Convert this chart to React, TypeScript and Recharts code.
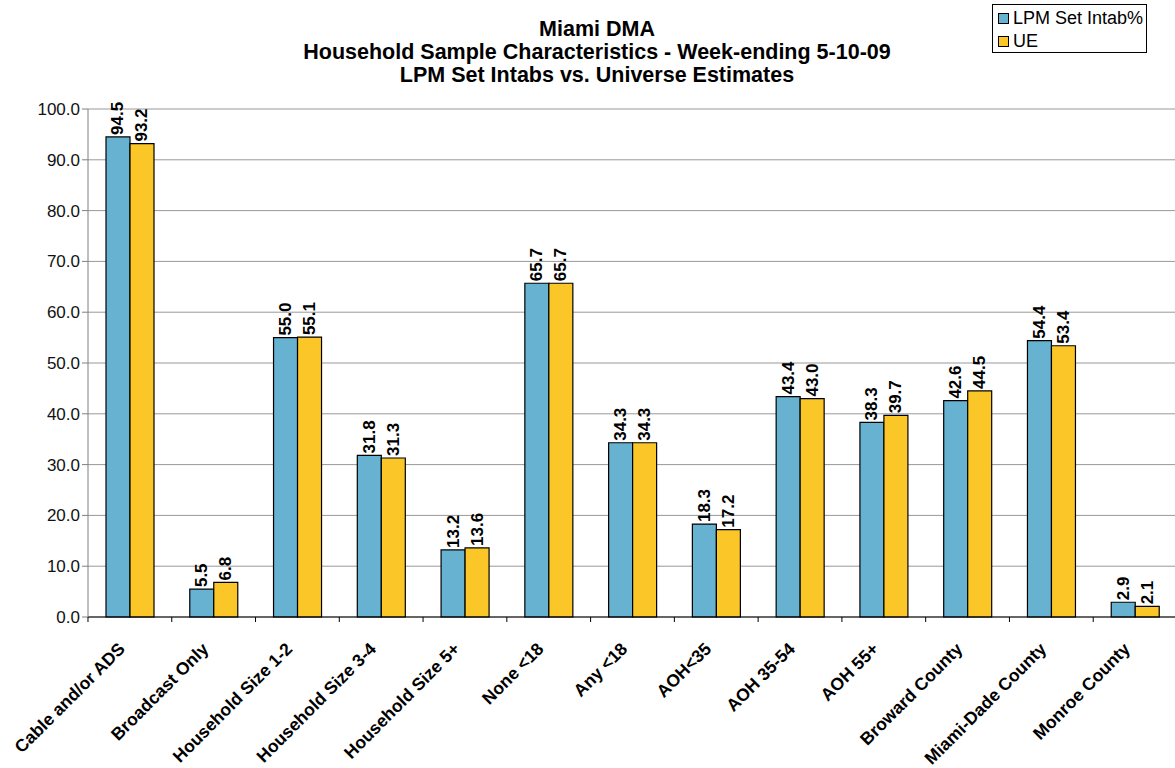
import React from "react";
import { Bar, BarChart, CartesianGrid, LabelList, XAxis, YAxis } from "recharts";

const categories = [
  "Cable and/or ADS",
  "Broadcast Only",
  "Household Size 1-2",
  "Household Size 3-4",
  "Household Size 5+",
  "None <18",
  "Any <18",
  "AOH<35",
  "AOH 35-54",
  "AOH 55+",
  "Broward County",
  "Miami-Dade County",
  "Monroe County",
];
const lpmIntab = [94.5, 5.5, 55.0, 31.8, 13.2, 65.7, 34.3, 18.3, 43.4, 38.3, 42.6, 54.4, 2.9];
const universe = [93.2, 6.8, 55.1, 31.3, 13.6, 65.7, 34.3, 17.2, 43.0, 39.7, 44.5, 53.4, 2.1];
const yTicks = [0, 10, 20, 30, 40, 50, 60, 70, 80, 90, 100];
const titleLines = [
  "Miami DMA",
  "Household Sample Characteristics - Week-ending 5-10-09",
  "LPM Set Intabs vs. Universe Estimates",
];

const BLUE = "#67B1D1";
const YELLOW = "#FBC627";
const FONT = "'Liberation Sans', Arial, sans-serif";

const data = categories.map((name, i) => ({ name, lpm: lpmIntab[i], ue: universe[i] }));

// category labels at 45deg, with the little boundary tick marks Excel draws
function XTick(props: any) {
  const { x, y, payload } = props;
  const half = 83.8 / 2;
  const ax = x - 4;
  const ay = y + 25;
  return (
    <g>
      <line x1={x - half} y1={y - 8} x2={x - half} y2={y - 3} stroke="#000" />
      <text
        x={ax}
        y={ay}
        transform={`rotate(-45, ${ax}, ${ay})`}
        textAnchor="end"
        fontFamily={FONT}
        fontWeight="bold"
        fontSize={17.5}
        fill="#000"
      >
        {payload.value}
      </text>
    </g>
  );
}

function BarValue(props: any) {
  const { x, y, width, value } = props;
  const cx = x + width / 2;
  const ty = y - 2;
  return (
    <text
      x={cx}
      y={ty}
      transform={`rotate(-90, ${cx}, ${ty})`}
      textAnchor="start"
      dominantBaseline="central"
      fontFamily={FONT}
      fontWeight="bold"
      fontSize={17}
      fill="#000"
    >
      {Number(value).toFixed(1)}
    </text>
  );
}

function LegendBox() {
  const items = [
    { label: "LPM Set Intab%", color: BLUE },
    { label: "UE", color: YELLOW },
  ];
  return (
    <div
      style={{
        position: "absolute",
        left: 992,
        top: 4,
        width: 155,
        height: 49,
        border: "1px solid #000",
        background: "#fff",
        fontFamily: FONT,
        fontSize: 18,
        paddingTop: 2,
        boxSizing: "border-box",
      }}
    >
      {items.map((it) => (
        <div key={it.label} style={{ display: "flex", alignItems: "center", height: 23, paddingLeft: 5 }}>
          <span
            style={{
              width: 9,
              height: 9,
              border: "1px solid #000",
              background: it.color,
              display: "inline-block",
              marginRight: 4,
            }}
          />
          <span>{it.label}</span>
        </div>
      ))}
    </div>
  );
}

export default function App() {
  return (
    <div style={{ position: "absolute", left: 0, top: 0, width: 1175, height: 768, background: "#fff", overflow: "hidden" }}>
      <div
        style={{
          position: "absolute",
          left: -6,
          top: 18,
          width: 1206,
          textAlign: "center",
          fontFamily: FONT,
          fontWeight: "bold",
          fontSize: 21.5,
          lineHeight: "23px",
          color: "#000",
        }}
      >
        {titleLines.map((t) => (
          <div key={t}>{t}</div>
        ))}
      </div>
      <BarChart
        width={1177}
        height={768}
        data={data}
        margin={{ top: 109, right: 0, bottom: 0, left: 0 }}
        barCategoryGap={18}
        barGap={0}
        style={{ position: "absolute", left: 0, top: 0 }}
      >
        <CartesianGrid horizontal vertical={false} stroke="#999" />
        <XAxis
          dataKey="name"
          interval={0}
          height={151}
          axisLine={{ stroke: "#000" }}
          tickLine={false}
          tick={<XTick />}
        />
        <YAxis
          width={88}
          domain={[0, 100]}
          ticks={yTicks}
          interval={0}
          tickFormatter={(v) => Number(v).toFixed(1)}
          axisLine={{ stroke: "#808080" }}
          tickLine={{ stroke: "#808080" }}
          tickSize={6}
          tick={{ fill: "#111", fontSize: 17, fontFamily: FONT }}
        />
        <Bar dataKey="lpm" name="LPM Set Intab%" fill={BLUE} stroke="#000" strokeWidth={1.2} isAnimationActive={false}>
          <LabelList dataKey="lpm" content={<BarValue />} />
        </Bar>
        <Bar dataKey="ue" name="UE" fill={YELLOW} stroke="#000" strokeWidth={1.2} isAnimationActive={false}>
          <LabelList dataKey="ue" content={<BarValue />} />
        </Bar>
      </BarChart>
      <LegendBox />
    </div>
  );
}
